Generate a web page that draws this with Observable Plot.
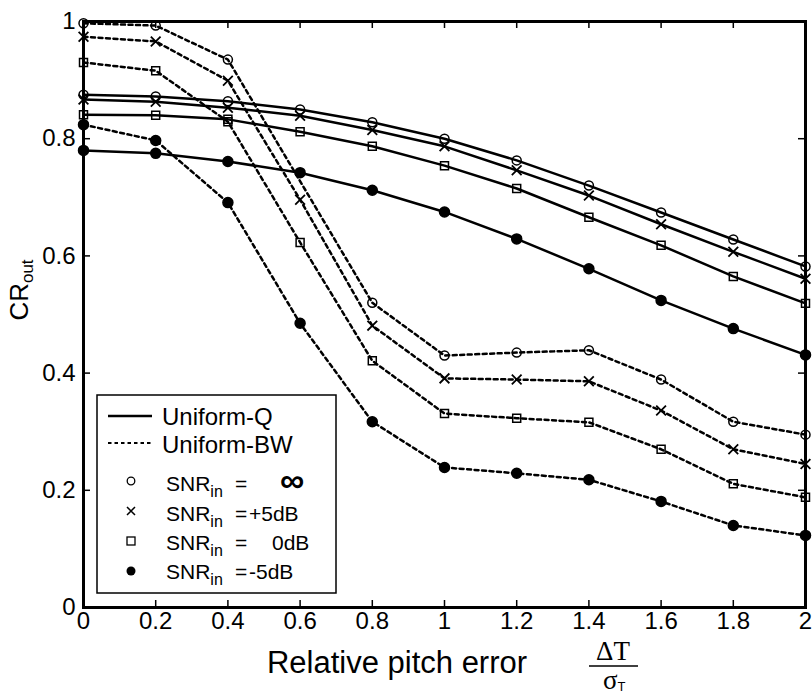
<!DOCTYPE html>
<html>
<head>
<meta charset="utf-8">
<script src="https://cdn.jsdelivr.net/npm/d3@7"></script>
<script src="https://cdn.jsdelivr.net/npm/@observablehq/plot@0.6"></script>
<style>
  html, body { margin: 0; padding: 0; background: #fff; }
  #chart { position: relative; width: 812px; height: 694px; }
</style>
</head>
<body>
<div id="chart"></div>
<script>
// ---- data ----
const pitchError = [0, 0.2, 0.4, 0.6, 0.8, 1.0, 1.2, 1.4, 1.6, 1.8, 2.0];

// Uniform-Q (solid)
const qInf = [0.875, 0.872, 0.864, 0.850, 0.828, 0.800, 0.763, 0.720, 0.674, 0.628, 0.582];
const qP5  = [0.867, 0.863, 0.853, 0.839, 0.815, 0.787, 0.746, 0.703, 0.654, 0.607, 0.561];
const q0   = [0.841, 0.840, 0.833, 0.812, 0.787, 0.754, 0.715, 0.666, 0.618, 0.565, 0.519];
const qM5  = [0.780, 0.775, 0.761, 0.742, 0.712, 0.675, 0.629, 0.578, 0.524, 0.476, 0.431];

// Uniform-BW (dashed)
const bwInf = [0.997, 0.993, 0.935, null, 0.520, 0.430, 0.435, 0.439, 0.389, 0.317, 0.295];
const bwP5  = [0.974, 0.966, 0.899, 0.696, 0.481, 0.391, 0.389, 0.386, 0.336, 0.270, 0.245];
const bw0   = [0.930, 0.916, 0.829, 0.623, 0.421, 0.331, 0.323, 0.316, 0.270, 0.211, 0.188];
const bwM5  = [0.824, 0.797, 0.691, 0.485, 0.317, 0.239, 0.229, 0.218, 0.181, 0.140, 0.123];

const xTicks = [0, 0.2, 0.4, 0.6, 0.8, 1, 1.2, 1.4, 1.6, 1.8, 2];
const yTicks = [0, 0.2, 0.4, 0.6, 0.8, 1];

const methodNames = ["Uniform-Q", "Uniform-BW"];
const snrKeys = ["inf", "p5", "0", "m5"];
const snrValueText = ["∞", "+5dB", "0dB", "-5dB"];

const xLabel = "Relative pitch error";
const yLabelMain = "CR";
const yLabelSub = "out";

// ---- build table ----
const series = [
  {method: "Q", snr: "inf", values: qInf},
  {method: "Q", snr: "p5", values: qP5},
  {method: "Q", snr: "0", values: q0},
  {method: "Q", snr: "m5", values: qM5},
  {method: "BW", snr: "inf", values: bwInf},
  {method: "BW", snr: "p5", values: bwP5},
  {method: "BW", snr: "0", values: bw0},
  {method: "BW", snr: "m5", values: bwM5}
];
const rows = series.flatMap(s => s.values.map((v, i) => ({
  x: pitchError[i], y: v, method: s.method, snr: s.snr, key: s.method + s.snr
})).filter(d => d.y != null));

const ofSnr = k => rows.filter(d => d.snr === k);
const fmt = d => String(d);

const W = 812, H = 694, ML = 83, MR = 7, MT = 21, MB = 87;
const plotW = W - ML - MR, plotH = H - MT - MB, TICK = 7;

const chart = Plot.plot({
  width: W,
  height: H,
  marginLeft: ML,
  marginRight: MR,
  marginTop: MT,
  marginBottom: MB,
  x: {domain: [0, 2]},
  y: {domain: [0, 1]},
  style: {fontFamily: "'Liberation Sans', Arial, Helvetica, sans-serif", fontSize: "24px", background: "white", color: "black", overflow: "visible"},
  marks: [
    Plot.line(rows.filter(d => d.method === "Q"), {x: "x", y: "y", z: "key", stroke: "black", strokeWidth: 2.5}),
    Plot.line(rows.filter(d => d.method === "BW"), {x: "x", y: "y", z: "key", stroke: "black", strokeWidth: 2.5, strokeDasharray: "4,3.5"}),
    Plot.dot(ofSnr("inf"), {x: "x", y: "y", r: 4.5, stroke: "black", fill: "none", strokeWidth: 1.5}),
    Plot.dot(ofSnr("p5"), {x: "x", y: "y", symbol: "times", r: 4.5, stroke: "black", strokeWidth: 1.8}),
    Plot.dot(ofSnr("0"), {x: "x", y: "y", symbol: "square", r: 4.5, stroke: "black", fill: "none", strokeWidth: 1.5}),
    Plot.dot(ofSnr("m5"), {x: "x", y: "y", r: 5, fill: "black", stroke: "black"}),
    // inward ticks on all four sides (MATLAB box style)
    Plot.ruleX(xTicks, {x: d => d, insetTop: plotH - TICK, stroke: "black", strokeWidth: 1.5}),
    Plot.ruleX(xTicks, {x: d => d, insetBottom: plotH - TICK, stroke: "black", strokeWidth: 1.5}),
    Plot.ruleY(yTicks, {y: d => d, insetRight: plotW - TICK, stroke: "black", strokeWidth: 1.5}),
    Plot.ruleY(yTicks, {y: d => d, insetLeft: plotW - TICK, stroke: "black", strokeWidth: 1.5}),
    Plot.axisX(xTicks, {anchor: "bottom", tickSize: 0, tickPadding: 4, fontSize: 24, tickFormat: fmt, label: null}),
    Plot.axisY(yTicks, {anchor: "left", tickSize: 0, tickPadding: 8, fontSize: 24, tickFormat: fmt, label: null}),
    Plot.frame({stroke: "black", strokeWidth: 3})
  ]
});
document.getElementById("chart").appendChild(chart);

// ---- annotations: axis labels & legend ----
const svg = d3.select(chart);
const sans = "'Liberation Sans', Arial, Helvetica, sans-serif";
const serif = "'Liberation Serif', 'Times New Roman', serif";
const txt = (sel) => sel.append("text").attr("text-anchor", "start").attr("fill", "black");

// y label
const yl = txt(svg)
  .attr("transform", "translate(28,290) rotate(-90)")
  .attr("text-anchor", "middle")
  .attr("font-family", sans).attr("font-size", 26);
yl.append("tspan").text(yLabelMain);
yl.append("tspan").attr("font-size", 17).attr("dy", 5).text(yLabelSub);

// x label
txt(svg).attr("x", 397).attr("y", 673).attr("text-anchor", "middle")
  .attr("font-family", sans).attr("font-size", 31).text(xLabel);

// fraction ΔT / σT
txt(svg).attr("x", 613).attr("y", 660).attr("text-anchor", "middle")
  .attr("font-family", serif).attr("font-size", 27).text("ΔT");
svg.append("line").attr("x1", 589).attr("x2", 638).attr("y1", 666).attr("y2", 666)
  .attr("stroke", "black").attr("stroke-width", 1.5);
const sig = txt(svg).attr("x", 603).attr("y", 689)
  .attr("font-family", serif).attr("font-size", 27);
sig.append("tspan").text("σ");
sig.append("tspan").attr("font-family", sans).attr("font-size", 13).attr("dy", 2).text("T");

// legend
const lg = svg.append("g");
lg.append("rect").attr("x", 97).attr("y", 395).attr("width", 239).attr("height", 198)
  .attr("fill", "white").attr("stroke", "black").attr("stroke-width", 1.5);
lg.append("line").attr("x1", 108).attr("x2", 152).attr("y1", 416).attr("y2", 416)
  .attr("stroke", "black").attr("stroke-width", 2.5);
lg.append("line").attr("x1", 108).attr("x2", 152).attr("y1", 443).attr("y2", 443)
  .attr("stroke", "black").attr("stroke-width", 2).attr("stroke-dasharray", "3.5,3");
txt(lg).attr("x", 162).attr("y", 425).attr("font-family", sans).attr("font-size", 24).text(methodNames[0]);
txt(lg).attr("x", 162).attr("y", 453).attr("font-family", sans).attr("font-size", 24).text(methodNames[1]);

const rowBase = [491, 521, 550, 579];
const mk = [481, 511, 541, 571];
lg.append("circle").attr("cx", 131).attr("cy", mk[0]).attr("r", 3.8).attr("fill", "none").attr("stroke", "black").attr("stroke-width", 1.3);
lg.append("path").attr("d", `M127,${mk[1]-4}L135,${mk[1]+4}M135,${mk[1]-4}L127,${mk[1]+4}`).attr("stroke", "black").attr("stroke-width", 1.5);
lg.append("rect").attr("x", 127).attr("y", mk[2]-4).attr("width", 8).attr("height", 8).attr("fill", "none").attr("stroke", "black").attr("stroke-width", 1.3);
lg.append("circle").attr("cx", 131).attr("cy", mk[3]).attr("r", 4.5).attr("fill", "black");

snrKeys.forEach((k, i) => {
  const t = txt(lg).attr("x", 166).attr("y", rowBase[i]).attr("font-family", sans).attr("font-size", 21);
  t.append("tspan").text("SNR");
  t.append("tspan").attr("font-size", 16).attr("dy", 6).text("in");
  txt(lg).attr("x", 235).attr("y", rowBase[i]).attr("font-family", sans).attr("font-size", 21).text("=");
  if (i === 0) {
    txt(lg).attr("x", 292).attr("y", rowBase[i] + 1).attr("text-anchor", "middle")
      .attr("font-family", sans).attr("font-size", 34).attr("font-weight", "bold").text(snrValueText[i]);
  } else if (i === 2) {
    txt(lg).attr("x", 272).attr("y", rowBase[i]).attr("font-family", sans).attr("font-size", 21).text(snrValueText[i]);
  } else {
    txt(lg).attr("x", 249).attr("y", rowBase[i]).attr("font-family", sans).attr("font-size", 21).text(snrValueText[i]);
  }
});
</script>
</body>
</html>
